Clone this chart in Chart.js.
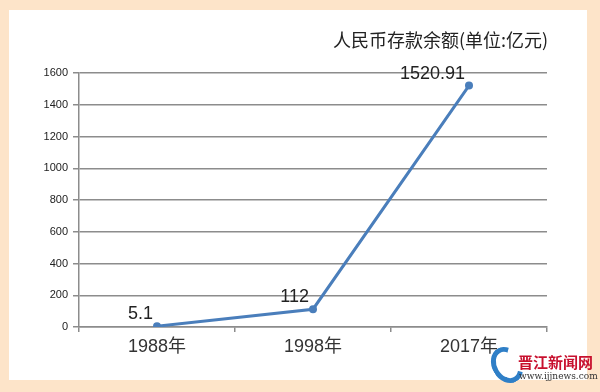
<!DOCTYPE html>
<html>
<head>
<meta charset="utf-8">
<script src="https://cdn.jsdelivr.net/npm/chart.js@4/dist/chart.umd.min.js"></script>
<style>
    body { margin: 0; background: #fde4c9; }
    #wrap { position: relative; width: 600px; height: 392px; overflow: hidden; }
    #panel { position: absolute; left: 9px; top: 10px; width: 578px; height: 370px; background: #fff; }
    #chart { position: absolute; left: 0; top: 0; }
    #title { position: absolute; left: 333px; top: 26px; font: 18px "Noto Sans CJK SC", sans-serif; color: #222; white-space: nowrap; }
    .logo { position: absolute; left: 492px; top: 346px; width: 20px; height: 28px; border-radius: 50%;
            border: 5px solid #2f7fc7; border-right-color: transparent; transform: rotate(-30deg); }
    .brand { position: absolute; left: 518px; top: 351px; font: bold 15px "Noto Sans CJK SC", sans-serif; color: #c8102e; white-space: nowrap; }
    .site { position: absolute; left: 519px; top: 371px; font: 9px "DejaVu Serif", serif; color: #333; white-space: nowrap; }
</style>
</head>
<body>
<div id="wrap">
    <div id="panel"></div>
    <canvas id="chart" width="600" height="392"></canvas>
    <div id="title">人民币存款余额(单位:亿元)</div>
    <div class="logo"></div>
    <div class="brand">晋江新闻网</div>
    <div class="site">www.ijjnews.com</div>
</div>
<script>
const years = ['1988年', '1998年', '2017年'];
const deposits = [5.1, 112, 1520.91];
const depositLabels = ['5.1', '112', '1520.91'];
const yTicks = [0, 200, 400, 600, 800, 1000, 1200, 1400, 1600];

const gridColor = '#8c8c8c';

// draws the value labels up and to the left of each point
const valueLabels = {
    id: 'valueLabels',
    afterDatasetsDraw(chart) {
        const ctx = chart.ctx;
        const meta = chart.getDatasetMeta(0);
        ctx.save();
        ctx.font = '18px "Liberation Sans", Arial, sans-serif';
        ctx.fillStyle = '#222';
        ctx.textAlign = 'right';
        ctx.textBaseline = 'middle';
        meta.data.forEach((pt, i) => {
            ctx.fillText(depositLabels[i], pt.x - 4, pt.y - 12);
        });
        ctx.restore();
    }
};

new Chart(document.getElementById('chart'), {
    type: 'line',
    data: {
        labels: years,
        datasets: [{
            data: deposits,
            borderColor: '#4a7ebb',
            backgroundColor: '#4a7ebb',
            borderWidth: 3,
            pointRadius: 4,
            pointBackgroundColor: '#4a7ebb',
            pointBorderWidth: 0,
            tension: 0,
            fill: false
        }]
    },
    options: {
        responsive: false,
        animation: false,
        events: [],
        layout: { padding: { top: 73, right: 53, bottom: 0, left: 0 } },
        plugins: {
            legend: { display: false },
            tooltip: { enabled: false }
        },
        scales: {
            x: {
                offset: true,
                afterFit: s => { s.height = 65; },
                grid: {
                    offset: true,
                    drawOnChartArea: false,
                    color: gridColor,
                    lineWidth: 1.5,
                    tickLength: 5
                },
                border: { color: gridColor, width: 1.5 },
                ticks: {
                    color: '#333',
                    padding: 4,
                    font: { size: 18, family: '"Liberation Sans", "Noto Sans CJK SC", sans-serif' }
                }
            },
            y: {
                min: 0,
                max: 1600,
                afterFit: s => { s.width = 79; },
                afterBuildTicks: s => { s.ticks = yTicks.map(v => ({ value: v })); },
                grid: {
                    color: gridColor,
                    lineWidth: 1.5,
                    tickLength: 6
                },
                border: { color: gridColor, width: 1.5 },
                ticks: {
                    color: '#222',
                    padding: 5,
                    callback: v => String(v),
                    font: { size: 11, family: '"Liberation Sans", Arial, sans-serif' }
                }
            }
        }
    },
    plugins: [valueLabels]
});
</script>
</body>
</html>
